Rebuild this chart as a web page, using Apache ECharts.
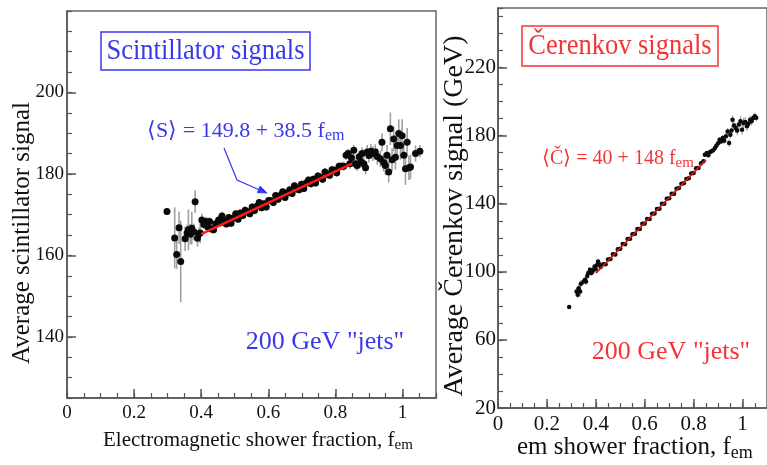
<!DOCTYPE html>
<html><head><meta charset="utf-8">
<script src="https://cdn.jsdelivr.net/npm/echarts/dist/echarts.min.js"></script>
<style>html,body{margin:0;padding:0;background:#fff;}#c{width:767px;height:465px;}</style>
</head><body><div id="c"></div>
<script>
// ---- Left panel: scintillator signals [fem, signal, error] ----
const scintLow = [
 [0.298,170.8,0.8],[0.321,164.3,7.5],[0.327,160.2,3.5],[0.334,166.8,4],[0.339,158.5,10],
 [0.352,164.1,3],[0.358,165.5,2],[0.362,166.3,5],[0.368,165.2,2.5],[0.372,166.7,4],
 [0.378,165.8,2],[0.382,173.2,2.8],[0.389,164.2,2],[0.394,165.3,1.5],[0.397,165.5,2.5],
 [0.402,168.7,1.5],[0.408,167.6,1.2],[0.415,168.3,1.2],[0.420,167.0,1],[0.425,168.3,1],
 [0.431,166.5,1],[0.437,166.3,1],[0.443,167.8,1],[0.452,168.7,1],[0.457,168.0,1],[0.462,169.7,1]
];
const scintMid = [
 [0.468,168.4,0.9],[0.475,167.7,0.9],[0.482,169.3,0.9],[0.489,167.9,0.9],[0.496,169.2,0.9],
 [0.503,170.2,0.9],[0.510,168.9,0.9],[0.517,170.4,0.9],[0.524,169.8,0.9],[0.531,171.1,0.9],
 [0.538,170.7,0.9],[0.545,170.2,0.9],[0.552,171.9,0.9],[0.559,171.0,0.9],[0.566,172.1,0.9],
 [0.573,173.0,0.9],[0.580,171.7,0.9],[0.587,172.7,0.9],[0.594,171.9,0.9],[0.601,173.5,0.9],
 [0.608,173.4,0.9],[0.615,173.0,0.9],[0.622,174.7,0.9],[0.629,173.8,0.9],[0.636,174.7,0.9],
 [0.643,175.6,0.9],[0.650,174.2,0.9],[0.657,175.4,0.9],[0.664,176.1,0.9],[0.671,175.2,0.9],
 [0.678,177.1,0.9],[0.685,176.3,0.9],[0.692,176.1,0.9],[0.699,177.5,0.9],[0.706,176.4,0.9],
 [0.713,177.8,0.9],[0.720,178.5,0.9],[0.727,177.6,0.9],[0.734,178.7,0.9],[0.741,177.8,0.9],
 [0.748,179.5,1],[0.755,179.2,1],[0.762,178.7,1],[0.769,180.5,1],[0.776,179.9,1],
 [0.783,179.7,1],[0.790,181.0,1],[0.797,180.9,1],[0.804,180.3,1],[0.811,181.9,1],
 [0.818,181.9,1],[0.825,181.9,1.1]
];
const scintHigh = [
 [0.832,184.6,1.2],[0.838,185.0,1.2],[0.843,182.5,1.2],[0.848,184.0,1.3],[0.855,185.8,1.3],
 [0.860,182.5,1.4],[0.865,182.1,1.4],[0.871,184.2,1.5],[0.876,183.0,1.5],[0.880,185.0,1.5],
 [0.885,182.5,1.6],[0.890,181.5,1.6],[0.895,185.4,1.7],[0.900,184.5,1.7],[0.906,185.6,1.8],
 [0.912,185.0,1.8],[0.919,185.4,1.9],[0.925,184.3,2],[0.934,183.7,2],[0.939,187.8,2.2],
 [0.944,182.8,2.2],[0.949,182.1,2.4],[0.954,184.6,2.5],[0.959,180.5,2.6],[0.964,191.1,4],
 [0.969,183.5,2.8],[0.974,188.6,3],[0.979,184.1,3],[0.984,187.0,3.2],[0.989,189.9,3.5],
 [0.994,187.0,3.5],[0.999,189.4,4],[1.004,184.6,3.5],[1.009,181.3,4],[1.014,187.8,3.5],
 [1.019,181.5,3],[1.024,181.7,3],[1.039,185.0,2],[1.052,185.6,1.5]
];
const scintFit = {a:149.8, b:38.5, from:0.4, to:0.85};

// ---- Right panel: Cerenkov signals [fem, signal, error] ----
const cerLow = [
 [0.291,79.4,1],[0.321,88.4,2.5],[0.326,86.5,2],[0.330,90.4,2.5],[0.336,88.4,3],[0.339,93.0,2],
 [0.350,94.3,2],[0.356,95.3,1.5],[0.360,94.3,2],[0.365,97.5,1.5],[0.369,99.3,1.5],[0.376,101.2,1.5],
 [0.382,99.3,1.5],[0.386,100.2,1.5],[0.389,101.2,1.2],[0.395,103.1,1.2],[0.400,101.5,1.2],
 [0.405,104.0,1.2],[0.409,106.1,1.2],[0.414,104.5,1.2]
];
const cerMid = [
 [0.42,102.8,1],[0.43,104.5,1],[0.44,104.4,1],[0.45,107.3,1],[0.46,107.5,1],[0.47,110.4,1],
 [0.48,110.2,1],[0.49,113.3,1],[0.50,113.5,1],[0.51,116.4,1],[0.52,116.2,1],[0.53,119.3,1],
 [0.54,119.4,1],[0.55,122.1,1],[0.56,122.3,1],[0.57,125.2,1],[0.58,125.1,1],[0.59,128.2,1],
 [0.60,128.4,1],[0.61,131.0,1],[0.62,131.0,1],[0.63,134.1,1],[0.64,134.3,1],[0.65,136.9,1],
 [0.66,137.1,1],[0.67,140.0,1],[0.68,140.0,1],[0.69,142.9,1],[0.70,143.2,1],[0.71,145.8,1],
 [0.72,145.9,1],[0.73,148.8,1],[0.74,149.2,1],[0.75,151.8,1],[0.76,152.0,1],[0.77,154.6,1],
 [0.78,155.0,1],[0.79,157.8,1],[0.80,158.0,1],[0.81,160.8,1],[0.82,161.0,1],[0.83,163.8,1],
 [0.84,165.0,1]
];
const cerHigh = [
 [0.846,168.8,1.2],[0.854,169.8,1.2],[0.860,168.5,1.2],[0.866,170.2,1.3],[0.873,170.8,1.3],
 [0.880,171.5,1.4],[0.887,172.8,1.4],[0.893,174.0,1.5],[0.900,175.5,1.5],[0.906,177.6,1.6],
 [0.912,176.5,1.6],[0.919,178.6,1.8],[0.925,177.0,1.8],[0.932,179.6,2],[0.939,182.5,2],
 [0.945,175.7,2.2],[0.950,180.5,2.2],[0.955,183.0,2.4],[0.959,189.4,2.5],[0.965,186.0,2.5],
 [0.972,184.5,2.6],[0.978,183.0,2.8],[0.985,186.5,3],[0.992,188.5,3],[0.998,183.5,3],
 [1.004,187.5,3],[1.011,188.0,3],[1.018,185.5,2.8],[1.024,187.0,2.6],[1.031,189.4,2.5],
 [1.037,188.5,2.4],[1.044,190.4,2.2],[1.050,191.4,2],[1.056,190.5,2]
];
const cerFit = {a:40, b:148, from:0.4, to:0.85};

// ---- tick labels ----
const xTickLabels = [0, 0.2, 0.4, 0.6, 0.8, 1];
const leftYTickLabels = [140, 160, 180, 200];
const rightYTickLabels = [20, 60, 100, 140, 180, 220];

const FONT = '"Liberation Serif", "Times New Roman", serif';
const BLUE = '#3838ec';
const RED = '#f23535';
const AXC = '#555';

const scintAll = scintLow.concat(scintMid, scintHigh);
const cerAll = cerLow.concat(cerMid, cerHigh);
const fitLine = f => [[f.from, f.a + f.b * f.from], [f.to, f.a + f.b * f.to]];

function minorAxis(grid, pos, min, max, interval, len) {
  return {
    type: 'value', gridIndex: grid, position: pos, min: min, max: max, interval: interval,
    axisLine: {show: true, onZero: false, lineStyle: {color: AXC, width: 1.5}},
    axisTick: {show: true, inside: true, length: len, lineStyle: {color: AXC, width: 1.2}},
    axisLabel: {show: false}, splitLine: {show: false}
  };
}
function majorAxis(grid, pos, min, max, values, len, fontSize, margin) {
  return {
    type: 'value', gridIndex: grid, position: pos, offset: 0, min: min, max: max,
    axisLine: {show: false, onZero: false},
    axisTick: {show: true, inside: true, length: len, customValues: values, lineStyle: {color: AXC, width: 1.5}},
    axisLabel: {show: true, customValues: values, margin: margin, color: '#111', fontFamily: FONT, fontSize: fontSize,
      formatter: v => (values.some(t => Math.abs(t - v) < 1e-6) ? String(v) : '')},
    splitLine: {show: false}
  };
}
function errRender(color, w) {
  return function (params, api) {
    const x = api.value(0), y = api.value(1), e = api.value(2);
    const p1 = api.coord([x, y - e]), p2 = api.coord([x, y + e]);
    return {type: 'line', shape: {x1: p1[0], y1: p1[1], x2: p2[0], y2: p2[1]}, style: {stroke: color, lineWidth: w}};
  };
}

const chart = echarts.init(document.getElementById('c'), null, {renderer: 'canvas'});
chart.setOption({
  backgroundColor: '#fff',
  animation: false,
  grid: [
    {left: 67, top: 11, width: 369, height: 387, show: true, borderColor: '#666', borderWidth: 1.5, backgroundColor: 'transparent'},
    {left: 498, top: 8, width: 280, height: 400, show: true, borderColor: '#666', borderWidth: 1.5, backgroundColor: 'transparent'}
  ],
  xAxis: [
    minorAxis(0, 'bottom', 0, 1.1, 0.05, 5),
    majorAxis(0, 'bottom', 0, 1.1, xTickLabels, 9, 19, 6),
    minorAxis(1, 'bottom', 0, 1.1, 0.05, 5),
    majorAxis(1, 'bottom', 0, 1.1, xTickLabels, 9, 21, 6)
  ],
  yAxis: [
    minorAxis(0, 'left', 125, 220, 5, 5),
    majorAxis(0, 'left', 125, 220, leftYTickLabels, 9, 19, 3),
    minorAxis(1, 'left', 20, 255, 10, 5),
    majorAxis(1, 'left', 20, 255, rightYTickLabels, 9, 21, 2)
  ],
  series: [
    {type: 'custom', xAxisIndex: 0, yAxisIndex: 0, data: scintAll, encode: {x: 0, y: 1},
      renderItem: errRender('#a0a0a0', 1.6), z: 2, silent: true},
    {type: 'scatter', xAxisIndex: 0, yAxisIndex: 0, data: scintAll.map(d => [d[0], d[1]]),
      symbol: 'circle', symbolSize: 7, itemStyle: {color: '#0a0a0a', opacity: 1}, z: 3, silent: true},
    {type: 'line', xAxisIndex: 0, yAxisIndex: 0, data: fitLine(scintFit), symbol: 'none',
      lineStyle: {color: '#ff1a1a', width: 2.5}, z: 4, silent: true},
    {type: 'custom', xAxisIndex: 2, yAxisIndex: 2, data: cerAll, encode: {x: 0, y: 1},
      renderItem: errRender('#a0a0a0', 1.2), z: 2, silent: true},
    {type: 'scatter', xAxisIndex: 2, yAxisIndex: 2, data: cerAll.map(d => [d[0], d[1]]),
      symbol: 'circle', symbolSize: 4.5, itemStyle: {color: '#0a0a0a', opacity: 1}, z: 3, silent: true},
    {type: 'line', xAxisIndex: 2, yAxisIndex: 2, data: fitLine(cerFit), symbol: 'none',
      lineStyle: {color: '#d21a1a', width: 1.6}, z: 4, silent: true}
  ],
  graphic: [
    {type: 'text', x: 22, y: 233, rotation: Math.PI / 2, silent: true,
      style: {text: 'Average scintillator signal', fill: '#111', font: '25px ' + FONT, align: 'center', verticalAlign: 'middle'}},
    {type: 'text', x: 103, y: 440, silent: true,
      style: {text: 'Electromagnetic shower fraction, f{sub|em}', fill: '#111', font: '21px ' + FONT, align: 'left', verticalAlign: 'middle',
        rich: {sub: {fontSize: 15, fontFamily: FONT, fill: '#111', padding: [10, 0, 0, 0]}}}},
    {type: 'text', x: 455, y: 216, rotation: Math.PI / 2, silent: true,
      style: {text: 'Average Čerenkov signal (GeV)', fill: '#111', font: '28px ' + FONT, align: 'center', verticalAlign: 'middle'}},
    {type: 'text', x: 517, y: 447, silent: true,
      style: {text: 'em shower fraction, f{sub|em}', fill: '#111', font: '25px ' + FONT, align: 'left', verticalAlign: 'middle',
        rich: {sub: {fontSize: 18, fontFamily: FONT, fill: '#111', padding: [12, 0, 0, 0]}}}},
    {type: 'rect', shape: {x: 101, y: 32, width: 209, height: 38}, silent: true,
      style: {fill: 'none', stroke: BLUE, lineWidth: 1.5}},
    {type: 'text', x: 205.5, y: 51, scaleY: 1.15, silent: true,
      style: {text: 'Scintillator signals', fill: BLUE, font: '26.5px ' + FONT, align: 'center', verticalAlign: 'middle'}},
    {type: 'rect', shape: {x: 522, y: 26, width: 196, height: 40}, silent: true,
      style: {fill: 'none', stroke: RED, lineWidth: 1.5}},
    {type: 'text', x: 620, y: 46, scaleY: 1.15, silent: true,
      style: {text: 'Čerenkov signals', fill: RED, font: '26.5px ' + FONT, align: 'center', verticalAlign: 'middle'}},
    {type: 'text', x: 147, y: 131, silent: true,
      style: {text: '⟨S⟩ = 149.8 + 38.5 f{sub|em}', fill: BLUE, font: '22px ' + FONT, align: 'left', verticalAlign: 'middle',
        rich: {sub: {fontSize: 16, fontFamily: FONT, fill: BLUE, padding: [10, 0, 0, 0]}}}},
    {type: 'text', x: 542, y: 159, silent: true,
      style: {text: '⟨Č⟩ = 40 + 148 f{sub|em}', fill: RED, font: '20px ' + FONT, align: 'left', verticalAlign: 'middle',
        rich: {sub: {fontSize: 15, fontFamily: FONT, fill: RED, padding: [9, 0, 0, 0]}}}},
    {type: 'polyline', shape: {points: [[224, 148], [237, 180], [262, 191]]}, silent: true,
      style: {stroke: BLUE, lineWidth: 1.2, fill: 'none'}},
    {type: 'polygon', shape: {points: [[267, 193], [257.4, 192.6], [260.1, 186.2]]}, silent: true,
      style: {fill: BLUE, stroke: BLUE, lineWidth: 1}},
    {type: 'text', x: 325, y: 342, silent: true,
      style: {text: '200 GeV "jets"', fill: BLUE, font: '26px ' + FONT, align: 'center', verticalAlign: 'middle'}},
    {type: 'text', x: 671, y: 352, silent: true,
      style: {text: '200 GeV "jets"', fill: RED, font: '26px ' + FONT, align: 'center', verticalAlign: 'middle'}}
  ]
});
</script></body></html>
